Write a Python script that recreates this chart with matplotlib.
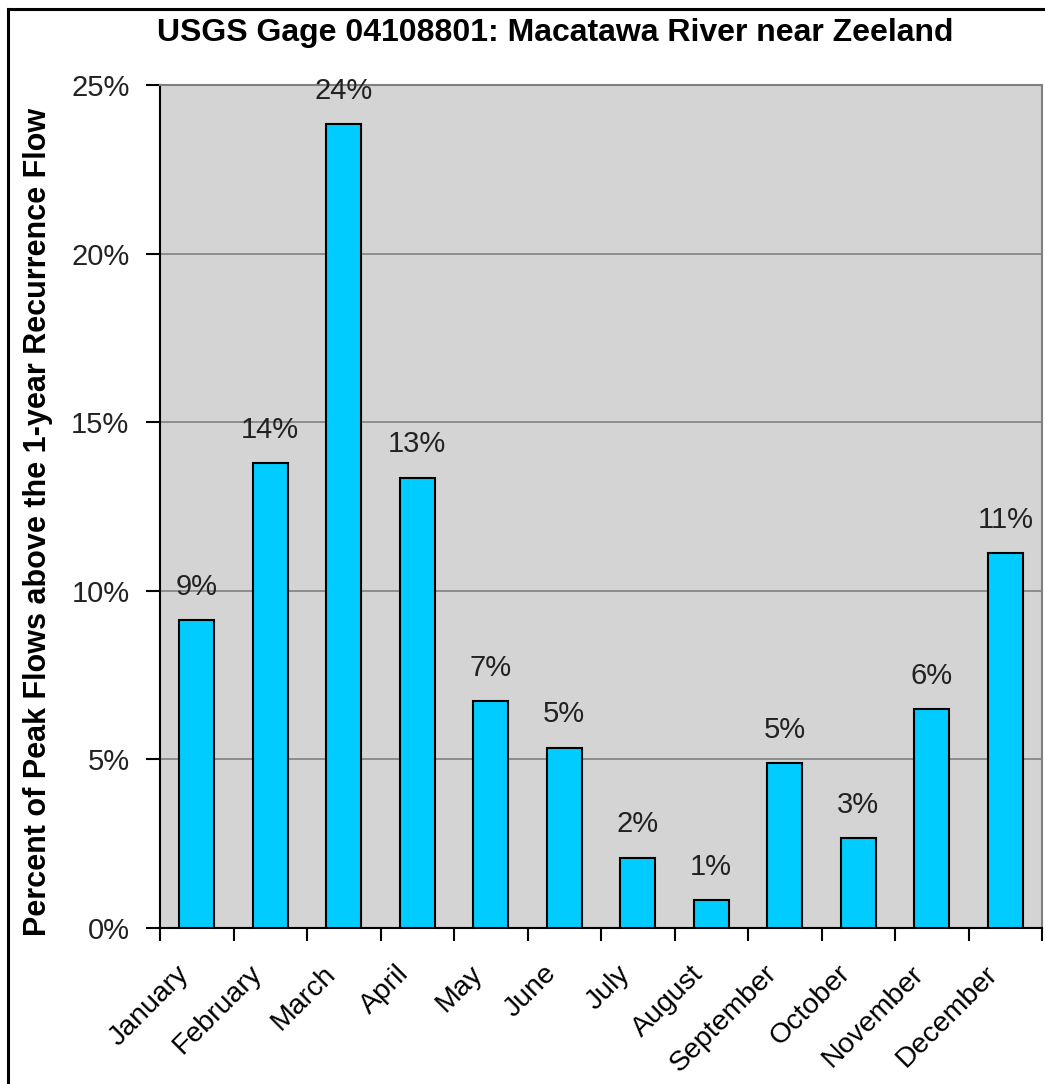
""" Bar chart of monthly share of peak flows above the 1-year recurrence flow.
"""

import numpy as np
import matplotlib
matplotlib.use("Agg")
import matplotlib.pyplot as plt
import matplotlib.transforms as mtransforms
from matplotlib.lines import Line2D

plt.rcParams['font.family'] = ['Liberation Sans', 'DejaVu Sans']

months = ["January", "February", "March", "April", "May", "June", "July",
          "August", "September", "October", "November", "December"]
percent_peaks = [9.13, 13.79, 23.84, 13.35, 6.73, 5.34, 2.08, 0.83, 4.89, 2.67, 6.49, 11.12]
bar_labels = ["9%", "14%", "24%", "13%", "7%", "5%", "2%", "1%", "5%", "3%", "6%", "11%"]
y_ticks = [0, 5, 10, 15, 20, 25]

W, H = 1045, 1084
fig = plt.figure(figsize=(W/100, H/100), dpi=100)
ax = fig.add_axes([160/W, 156/H, 882/W, 843/H])
ax.set_facecolor("#d4d4d4")

x = np.arange(len(months))
bars = ax.bar(x, percent_peaks, width=0.48, color="#00ccff", edgecolor="black", linewidth=1.5, zorder=3)
ax.bar_label(bars, labels=bar_labels, padding=14, fontsize=21, color="#222222")

ax.set_xlim(-0.5, len(months) - 0.5)
ax.set_ylim(0, 25)
ax.set_yticks(y_ticks)
ax.set_yticklabels([f"{v}%" for v in y_ticks], fontsize=21, color="#222222")
ax.yaxis.grid(True, color="#808080", linewidth=1.2, zorder=0)

# month labels at centres, ticks at category boundaries
ax.set_xticks(x)
ax.set_xticklabels(months, rotation=45, ha="right", va="center", rotation_mode="anchor", fontsize=20.5)
ax.tick_params(axis="x", length=0, pad=30)
shift = mtransforms.ScaledTranslation(-12/100, 0, fig.dpi_scale_trans)
for lab in ax.get_xticklabels():
    lab.set_transform(lab.get_transform() + shift)
ax.set_xticks(np.arange(len(months) + 1) - 0.5, minor=True)
ax.tick_params(axis="x", which="minor", length=9, width=1.5, direction="out")
ax.tick_params(axis="y", length=10, width=1.5, direction="out", pad=12)

for side in ["top", "right"]:
    ax.spines[side].set_color("#808080")
    ax.spines[side].set_linewidth(1.5)
for side in ["left", "bottom"]:
    ax.spines[side].set_color("black")
    ax.spines[side].set_linewidth(1.5)

fig.text(38/W, 1 - 522/H, "Percent of Peak Flows above the 1-year Recurrence Flow", fontsize=22,
         fontweight="bold", rotation=90, ha="center", va="center")
fig.text(555/W, 1 - 41/H, "USGS Gage 04108801: Macatawa River near Zeeland", fontsize=23,
         fontweight="bold", ha="center", va="baseline")

# outer chart border (left and top edges visible)
fig.add_artist(Line2D([7.5/W, 7.5/W], [0, 1 - 9/H], color="black", linewidth=2.2))
fig.add_artist(Line2D([7.5/W, 1], [1 - 9/H, 1 - 9/H], color="black", linewidth=2.2))

fig.savefig("out.png", dpi=100)
